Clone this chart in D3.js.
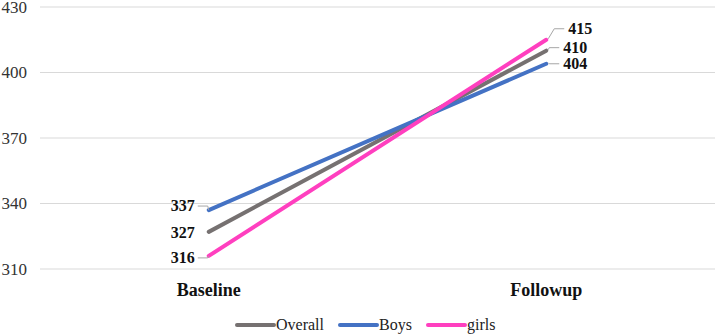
<!DOCTYPE html>
<html lang="en">
<head>
    <meta charset="UTF-8">
    <title>Baseline vs Followup</title>
    <script src="https://d3js.org/d3.v7.min.js"></script>
    <style>
        body { margin: 0; background: #fff; }
        svg text { font-family: "Liberation Serif", "DejaVu Serif", serif; }
    </style>
</head>
<body>
    <svg width="720" height="336"></svg>

    <script>
        // Data
        const categories = ["Baseline", "Followup"];
        const seriesNames = ["Overall", "Boys", "girls"];
        const overall = [327, 410];
        const boys = [337, 404];
        const girls = [316, 415];
        const yTicks = [310, 340, 370, 400, 430];

        const colors = { Overall: "#767171", Boys: "#4472C4", girls: "#FF3FBF" };
        const values = { Overall: overall, Boys: boys, girls: girls };
        const serif = "'Liberation Serif', 'DejaVu Serif', serif";

        const margin = { top: 7, right: 5, bottom: 67, left: 40 };
        const width = 720 - margin.left - margin.right;
        const height = 336 - margin.top - margin.bottom;

        const svg = d3.select("svg")
            .append("g")
            .attr("transform", `translate(${margin.left},${margin.top})`);

        const x = d3.scaleBand()
            .domain(categories)
            .range([0, width]);

        const y = d3.scaleLinear()
            .domain([310, 430])
            .range([height, 0]);

        // gridlines
        svg.selectAll(".grid")
            .data(yTicks)
            .enter()
            .append("line")
            .attr("x1", 0)
            .attr("x2", width)
            .attr("y1", d => y(d))
            .attr("y2", d => y(d))
            .attr("stroke", "#d9d9d9")
            .attr("stroke-width", 1);

        // y tick labels
        svg.selectAll(".ytick")
            .data(yTicks)
            .enter()
            .append("text")
            .attr("x", -13)
            .attr("y", d => y(d))
            .attr("dy", "0.34em")
            .attr("text-anchor", "end")
            .attr("font-family", serif)
            .attr("font-size", 17)
            .attr("fill", "#333")
            .text(d => d);

        // category labels
        svg.selectAll(".xtick")
            .data(categories)
            .enter()
            .append("text")
            .attr("x", d => x(d) + x.bandwidth() / 2)
            .attr("y", height + 27)
            .attr("text-anchor", "middle")
            .attr("font-family", serif)
            .attr("font-size", 18)
            .attr("font-weight", "bold")
            .attr("fill", "#111")
            .text(d => d);

        const cx = d => x(d) + x.bandwidth() / 2;

        const line = d3.line()
            .x((d, i) => cx(categories[i]))
            .y(d => y(d));

        // lines
        seriesNames.forEach(name => {
            svg.append("path")
                .datum(values[name])
                .attr("d", line)
                .attr("fill", "none")
                .attr("stroke", colors[name])
                .attr("stroke-width", 4)
                .attr("stroke-linecap", "round");
        });

        // data labels: offsets from the point (dx, dy) and whether a leader line is drawn
        const labelPos = {
            Overall: [{ dx: -13, dy: 1, lead: false }, { dx: 16, dy: -3, lead: true }],
            Boys: [{ dx: -13, dy: -4, lead: true }, { dx: 16, dy: 0, lead: true }],
            girls: [{ dx: -13, dy: 2, lead: true }, { dx: 21, dy: -11, lead: true }]
        };

        seriesNames.forEach(name => {
            values[name].forEach((v, i) => {
                const px = cx(categories[i]);
                const py = y(v);
                const p = labelPos[name][i];
                const lx = px + p.dx;
                const ly = py + p.dy;
                if (p.lead) {
                    const sx = i === 0 ? lx + 2 : lx - 3;
                    const ex = i === 0 ? px - 1 : px + (p.dx > 16 ? 8 : 3);
                    const pts = i === 0
                        ? [[sx, ly], [px - 1, ly], [px, py]]
                        : [[sx, ly], [ex, ly], [px + 2, py - 1]];
                    svg.append("path")
                        .attr("d", d3.line()(pts))
                        .attr("fill", "none")
                        .attr("stroke", "#a6a6a6")
                        .attr("stroke-width", 1);
                }
                svg.append("text")
                    .attr("x", i === 0 ? lx - 1 : lx + 1)
                    .attr("y", ly)
                    .attr("dy", "0.34em")
                    .attr("text-anchor", i === 0 ? "end" : "start")
                    .attr("font-family", serif)
                    .attr("font-size", 16)
                    .attr("font-weight", "bold")
                    .attr("fill", "#111")
                    .text(v);
            });
        });

        // legend
        const legendX = [237, 340, 428];
        const legend = svg.append("g")
            .attr("transform", `translate(${-margin.left},${-margin.top})`);
        seriesNames.forEach((name, i) => {
            legend.append("line")
                .attr("x1", legendX[i])
                .attr("x2", legendX[i] + 37)
                .attr("y1", 325)
                .attr("y2", 325)
                .attr("stroke", colors[name])
                .attr("stroke-width", 4)
                .attr("stroke-linecap", "round");
            legend.append("text")
                .attr("x", legendX[i] + 39)
                .attr("y", 325)
                .attr("dy", "0.34em")
                .attr("font-family", serif)
                .attr("font-size", 16)
                .attr("fill", "#222")
                .text(name);
        });
    </script>
</body>
</html>
